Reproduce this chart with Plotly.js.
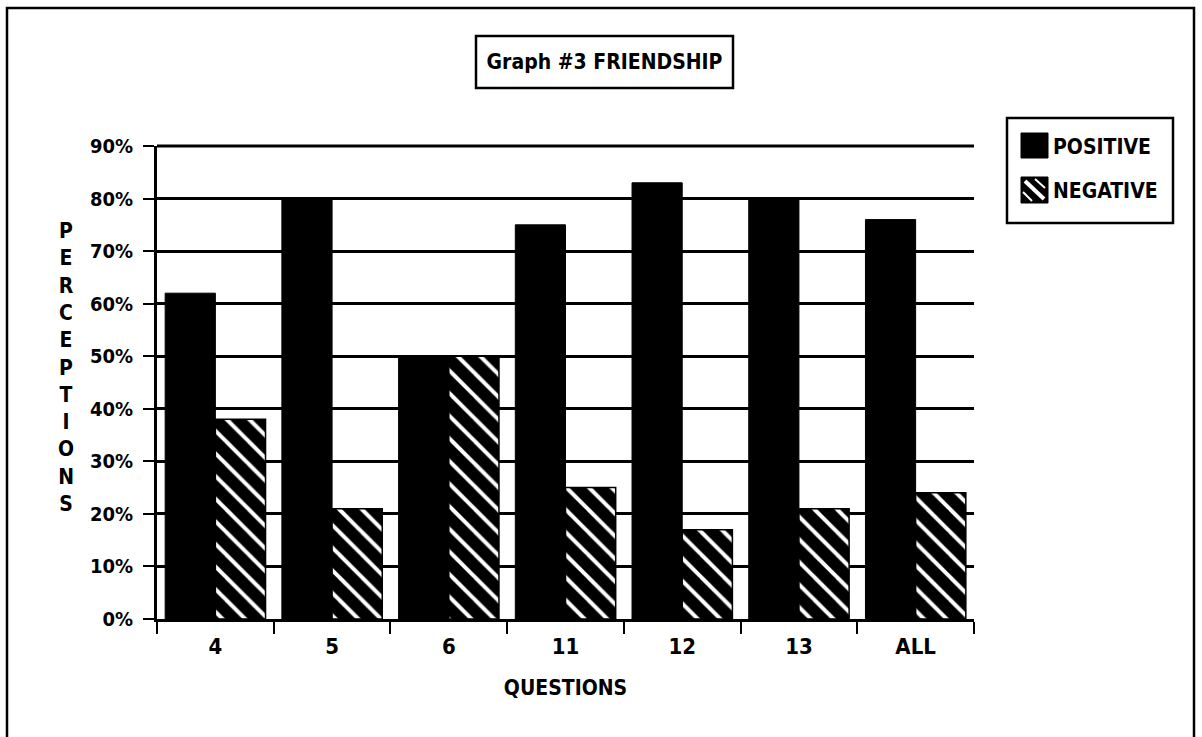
<!DOCTYPE html>
<html>
<head>
<meta charset="utf-8">
<script src="https://cdn.plot.ly/plotly-3.0.1.min.js"></script>
<style>
  html, body { margin: 0; padding: 0; background: #fff; }
  #chart { width: 1202px; height: 737px; }
</style>
</head>
<body>
<div id="chart"></div>
<script>
// ---- data ----
const categories = ['4', '5', '6', '11', '12', '13', 'ALL'];
const positive = [62, 80, 50, 75, 83, 80, 76];
const negative = [38, 21, 50, 25, 17, 21, 24];
const seriesNames = ['POSITIVE', 'NEGATIVE'];
const yTicks = [0, 10, 20, 30, 40, 50, 60, 70, 80, 90];
const yTickLabels = ['0%', '10%', '20%', '30%', '40%', '50%', '60%', '70%', '80%', '90%'];
const chartTitle = 'Graph #3 FRIENDSHIP';
const xTitle = 'QUESTIONS';
const yTitle = 'PERCEPTIONS';

// ---- layout geometry (pixels) ----
const W = 1202, H = 737;
const L = 157, R = 974, T = 146, B = 619;
const px = x => (x - L) / (R - L);
const py = y => (B - y) / (B - T);

const FONT = 'DejaVu Sans Condensed, Liberation Sans Narrow, Liberation Sans, sans-serif';

const traces = [
  {
    type: 'bar', name: seriesNames[0], x: categories, y: positive,
    marker: { color: '#000', line: { color: '#000', width: 1 } },
    showlegend: false, hoverinfo: 'x+y'
  },
  {
    type: 'bar', name: seriesNames[1], x: categories, y: negative,
    marker: {
      color: '#000',
      line: { color: '#000', width: 1.5 },
      pattern: { shape: '\\', bgcolor: '#000', fgcolor: '#fff', size: 16, solidity: 0.25 }
    },
    showlegend: false, hoverinfo: 'x+y'
  }
];

const shapes = [];
const annotations = [];

// top gridline at the top of the value range (90%), drawn unclipped
shapes.push({ type: 'line', xref: 'paper', yref: 'paper', x0: 0, x1: 1,
  y0: 1, y1: 1, line: { color: '#000', width: 3 }, layer: 'below' });

// outer frame
shapes.push({ type: 'rect', xref: 'paper', yref: 'paper',
  x0: px(7), x1: px(1194), y0: py(745), y1: py(8),
  line: { color: '#000', width: 2.5 }, fillcolor: 'rgba(0,0,0,0)', layer: 'below' });

// title box
shapes.push({ type: 'rect', xref: 'paper', yref: 'paper',
  x0: px(476), x1: px(733), y0: py(88), y1: py(36),
  line: { color: '#000', width: 2.5 }, fillcolor: 'rgba(0,0,0,0)' });

// legend box
shapes.push({ type: 'rect', xref: 'paper', yref: 'paper',
  x0: px(1007), x1: px(1173), y0: py(223), y1: py(118),
  line: { color: '#000', width: 2.5 }, fillcolor: 'rgba(0,0,0,0)' });
// legend swatches
shapes.push({ type: 'rect', xref: 'paper', yref: 'paper',
  x0: px(1021), x1: px(1048), y0: py(158), y1: py(133),
  line: { color: '#000', width: 1 }, fillcolor: '#000' });
shapes.push({ type: 'rect', xref: 'paper', yref: 'paper',
  x0: px(1021), x1: px(1048), y0: py(203), y1: py(177),
  line: { color: '#000', width: 1 }, fillcolor: '#000' });
shapes.push({ type: 'line', xref: 'paper', yref: 'paper',
  x0: px(1025), x1: px(1044), y0: py(181), y1: py(199),
  line: { color: '#fff', width: 4 } });
shapes.push({ type: 'line', xref: 'paper', yref: 'paper',
  x0: px(1035), x1: px(1045), y0: py(179), y1: py(188),
  line: { color: '#fff', width: 2 } });
shapes.push({ type: 'line', xref: 'paper', yref: 'paper',
  x0: px(1023), x1: px(1032), y0: py(192), y1: py(201),
  line: { color: '#fff', width: 2 } });

// legend labels
annotations.push({ xref: 'paper', yref: 'paper', x: px(1051), y: py(147),
  xanchor: 'left', yanchor: 'middle', showarrow: false, text: seriesNames[0],
  font: { family: FONT, size: 21, color: '#000', weight: 'bold' } });
annotations.push({ xref: 'paper', yref: 'paper', x: px(1051), y: py(191),
  xanchor: 'left', yanchor: 'middle', showarrow: false, text: seriesNames[1],
  font: { family: FONT, size: 21, color: '#000', weight: 'bold' } });

// vertical y-axis title (stacked letters)
annotations.push({ xref: 'paper', yref: 'paper', x: px(66), y: py(367),
  xanchor: 'center', yanchor: 'middle', showarrow: false,
  text: yTitle.split('').join('<br>'),
  font: { family: FONT, size: 21, color: '#000', weight: 'bold' } });

const layout = {
  width: W, height: H,
  margin: { l: L, r: W - R, t: T, b: H - B, pad: 0 },
  paper_bgcolor: '#fff', plot_bgcolor: '#fff',
  font: { family: FONT, color: '#000', weight: 'bold' },
  title: {
    text: chartTitle, xref: 'container', yref: 'container',
    x: 604.5 / W, y: 1 - 62 / H, xanchor: 'center', yanchor: 'middle',
    font: { family: FONT, size: 21, color: '#000', weight: 'bold' }
  },
  barmode: 'group', bargap: 0.14, bargroupgap: 0,
  showlegend: false,
  xaxis: {
    type: 'category', range: [-0.5, 6.5], fixedrange: true,
    showline: true, linecolor: '#000', linewidth: 3,
    ticks: 'outside', tickson: 'boundaries', ticklen: 12, tickwidth: 2, tickcolor: '#000',
    ticklabelstandoff: 6,
    showgrid: false, zeroline: false,
    tickfont: { family: FONT, size: 22, color: '#000', weight: 'bold' },
    title: { text: xTitle, standoff: 22,
      font: { family: FONT, size: 21, color: '#000', weight: 'bold' } }
  },
  yaxis: {
    range: [0, 90], fixedrange: true, tickmode: 'array', tickvals: yTicks, ticktext: yTickLabels,
    showline: true, linecolor: '#000', linewidth: 3,
    ticks: 'outside', ticklen: 11, tickwidth: 2, tickcolor: '#000',
    ticklabelstandoff: 6,
    showgrid: true, gridcolor: '#000', gridwidth: 3, zeroline: false,
    tickfont: { family: FONT, size: 20, color: '#000', weight: 'bold' }
  },
  shapes: shapes,
  annotations: annotations
};

Plotly.newPlot('chart', traces, layout, { staticPlot: true, displayModeBar: false });
</script>
</body>
</html>
